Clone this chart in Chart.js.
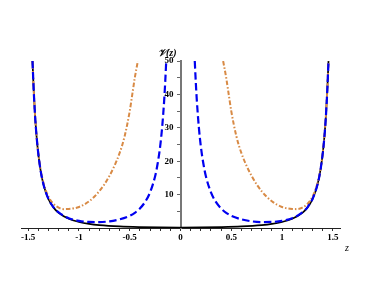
<!DOCTYPE html>
<html><head><meta charset="utf-8">
<script src="https://cdn.jsdelivr.net/npm/chart.js@4.4.1/dist/chart.umd.min.js"></script>
<style>html,body{margin:0;padding:0;background:#fff;}</style>
</head><body>
<canvas id="c" width="382" height="300" style="display:block;width:382px;height:300px"></canvas>
<script>
// ---- data ----
const zBlack = [-1.4575,-1.455,-1.445,-1.43,-1.41,-1.38,-1.35,-1.3,-1.25,-1.2,-1.1,-1.0,-0.9,-0.8,-0.6,-0.4,-0.2,0,0.2,0.4,0.6,0.8,0.9,1.0,1.1,1.2,1.25,1.3,1.35,1.38,1.41,1.43,1.445,1.455,1.4575];
const vBlack = [50,48.1,40.8,32.5,24.9,17.6,13.05,8.6,6.1,4.55,2.75,1.8,1.22,0.86,0.46,0.27,0.18,0.15,0.18,0.27,0.46,0.86,1.22,1.8,2.75,4.55,6.1,8.6,13.05,17.6,24.9,32.5,40.8,48.1,50];

const zBlue = [-1.4575,-1.455,-1.445,-1.43,-1.41,-1.38,-1.35,-1.3,-1.25,-1.2,-1.1,-1.0,-0.9,-0.8,-0.7,-0.6,-0.5,-0.45,-0.4,-0.35,-0.3,-0.25,-0.225,-0.2,-0.18,-0.16,-0.15,-0.1405,
               0,
               0.1405,0.15,0.16,0.18,0.2,0.225,0.25,0.3,0.35,0.4,0.45,0.5,0.6,0.7,0.8,0.9,1.0,1.1,1.2,1.25,1.3,1.35,1.38,1.41,1.43,1.445,1.455,1.4575];
const vBlue = [50,48.1,40.8,32.5,24.95,17.65,13.1,8.7,6.2,4.65,2.95,2.15,1.82,1.78,2.0,2.6,3.65,4.55,5.86,7.73,10.65,15.5,19.3,24.5,30.4,38.6,44.0,50,
               null,
               50,44.0,38.6,30.4,24.5,19.3,15.5,10.65,7.73,5.86,4.55,3.65,2.6,2.0,1.78,1.82,2.15,2.95,4.65,6.2,8.7,13.1,17.65,24.95,32.5,40.8,48.1,50];

const zOrange = [-1.4575,-1.455,-1.445,-1.43,-1.41,-1.38,-1.35,-1.3,-1.25,-1.2,-1.15,-1.1,-1.0,-0.9,-0.8,-0.7,-0.6,-0.55,-0.5,-0.47,-0.45,-0.42,
                 0,
                 0.42,0.45,0.47,0.5,0.55,0.6,0.7,0.8,0.9,1.0,1.1,1.15,1.2,1.25,1.3,1.35,1.38,1.41,1.43,1.445,1.455,1.4575];
const vOrange = [50,48.2,40.9,32.7,25.1,17.8,13.55,9.35,7.2,6.1,5.65,5.7,6.3,8.0,11.0,15.6,22.4,27.5,35,41,45,50,
                 null,
                 50,45,41,35,27.5,22.4,15.6,11.0,8.0,6.3,5.7,5.65,6.1,7.2,9.35,13.55,17.8,25.1,32.7,40.9,48.2,50];

const xTicks = [-1.5,-1.4,-1.3,-1.2,-1.1,-1.0,-0.9,-0.8,-0.7,-0.6,-0.5,-0.4,-0.3,-0.2,-0.1,0,0.1,0.2,0.3,0.4,0.5,0.6,0.7,0.8,0.9,1.0,1.1,1.2,1.3,1.4,1.5];
const xLabels = {"-1.5":"-1.5","-1":"-1","-0.5":"-0.5","0":"0","0.5":"0.5","1":"1","1.5":"1.5"};
const yTicks = [5,10,15,20,25,30,35,40,45,50];
const yLabels = {"10":"10","20":"20","30":"30","40":"40","50":"50"};
const xTitle = "z";
const yTitle = "𝒱(z)";
const xMin = -1.5708, xMax = 1.5708, yMin = 0, yMax = 50;

function pts(zs, vs){ return zs.map((z,i)=>({x:z, y:vs[i]})); }

const axisTitles = {
  id:'axisTitles',
  afterDraw(chart){
    const ctx = chart.ctx, xs = chart.scales.x, ys = chart.scales.y;
    ctx.save();
    ctx.fillStyle = '#000';
    ctx.font = 'italic bold 10px "Liberation Serif"';
    ctx.textAlign = 'right'; ctx.textBaseline = 'middle';
    ctx.fillText(yTitle, xs.getPixelForValue(0) - 4, ys.top - 8);
    ctx.font = 'italic 10px "Liberation Serif"';
    ctx.textAlign = 'center';
    ctx.fillText(xTitle, xs.right + 7, ys.bottom + 20);
    ctx.restore();
  }
};

const tickFont = {family:'"Liberation Serif"', size:9, weight:'bold'};

new Chart(document.getElementById('c'), {
  type: 'scatter',
  data: { datasets: [
    { data: pts(zBlack, vBlack), borderColor:'#000000', borderWidth:1.7, showLine:true, pointRadius:0, cubicInterpolationMode:'monotone', spanGaps:false, order:3 },
    { data: pts(zOrange, vOrange), borderColor:'#d88a45', borderWidth:2, borderDash:[4.5,2,1.5,2], showLine:true, pointRadius:0, cubicInterpolationMode:'monotone', spanGaps:false, order:2 },
    { data: pts(zBlue, vBlue), borderColor:'#0000f0', borderWidth:2.2, borderDash:[7.5,3.5], showLine:true, pointRadius:0, cubicInterpolationMode:'monotone', spanGaps:false, order:1 }
  ]},
  options: {
    responsive:false, animation:false, devicePixelRatio:1,
    layout:{ padding:{ left:21, right:42, top:61, bottom:52 } },
    plugins:{ legend:{display:false}, tooltip:{enabled:false} },
    scales:{
      x:{ type:'linear', position:'bottom', min:xMin, max:xMax,
          afterBuildTicks: s => { s.ticks = xTicks.map(v=>({value:v})); },
          afterFit: s => { s.height = 20; },
          ticks:{ autoSkip:false, maxRotation:0, padding:1, color:'#000', font:tickFont,
                  callback: v => xLabels[String(Math.round(v*10)/10)] ?? '' },
          grid:{ drawOnChartArea:false, drawTicks:true, tickLength:3, color:'#333', tickWidth:1 },
          border:{ display:true, color:'#222', width:1 } },
      y:{ type:'linear', position:'center', min:yMin, max:yMax,
          afterBuildTicks: s => { s.ticks = yTicks.map(v=>({value:v})); },
          afterFit: s => { s.width = 0; },
          ticks:{ autoSkip:false, padding:4, color:'#000', font:tickFont,
                  callback: v => yLabels[String(v)] ?? '' },
          grid:{ drawOnChartArea:false, drawTicks:true, tickLength:3, color:'#666', tickWidth:1 },
          border:{ display:true, color:'#777', width:2 } }
    }
  },
  plugins:[axisTitles]
});
</script>
</body></html>
